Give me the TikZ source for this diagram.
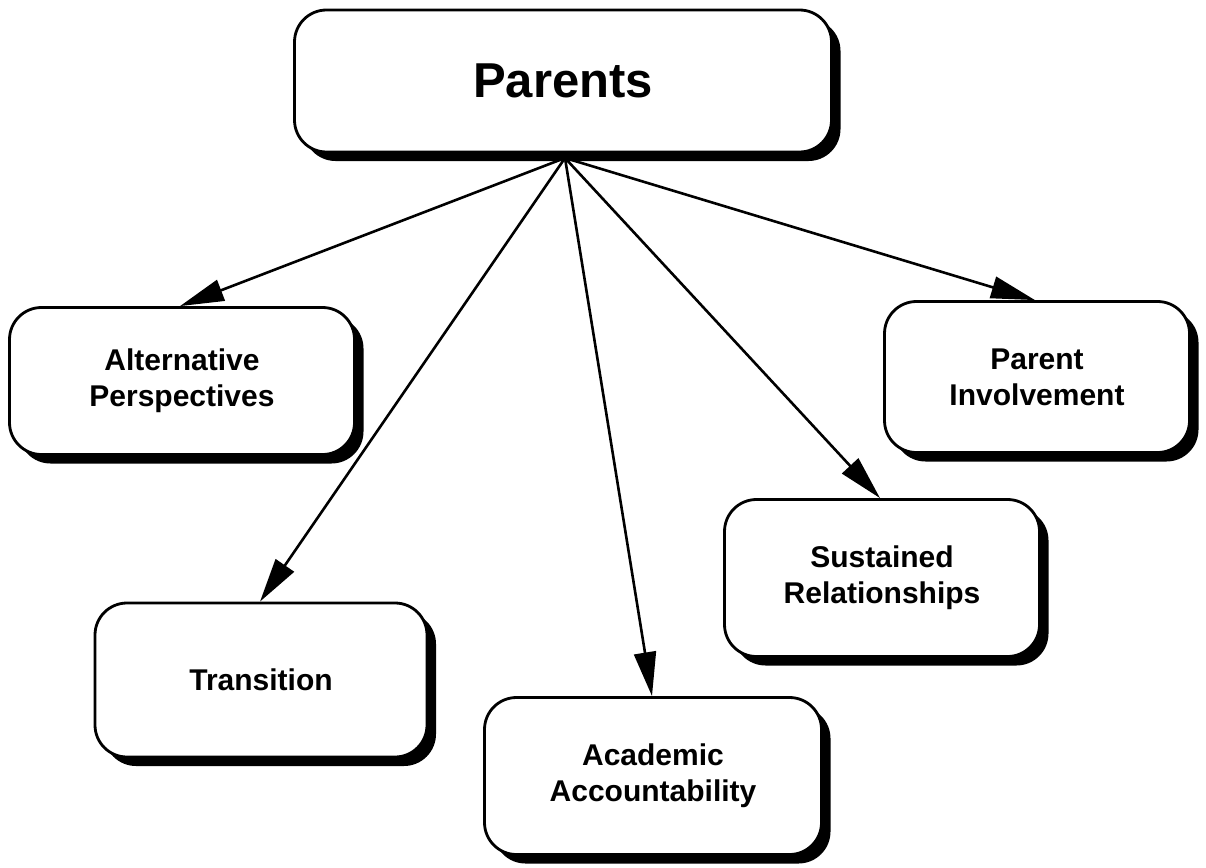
\documentclass[tikz,border=0pt]{standalone}
\usepackage{fontspec}
\setmainfont{Liberation Sans}
\usetikzlibrary{arrows.meta,shadows}
\begin{document}
\begin{tikzpicture}[x=1pt,y=-1pt,
  box/.style={draw=black, line width=2.8pt, fill=white, rounded corners=32pt,
    drop shadow={shadow xshift=9pt, shadow yshift=-9pt, fill=black, opacity=1},
    align=center, font=\fontsize{30}{36}\selectfont\bfseries, inner sep=0pt},
  conn/.style={line width=2.6pt, -{Triangle[length=44pt,width=22pt]}}]
\useasboundingbox (0,0) rectangle (1206,867);
\node[box, minimum width=537pt, minimum height=142pt, font=\fontsize{49}{54}\selectfont\bfseries] (parents) at (563,81) {Parents};
\node[box, minimum width=345pt, minimum height=147pt] (alt) at (182,381) {Alternative\\Perspectives};
\node[box, minimum width=332pt, minimum height=154pt] (trans) at (261,680) {Transition};
\node[box, minimum width=337pt, minimum height=157pt] (acad) at (653,776) {Academic\\Accountability};
\node[box, minimum width=315pt, minimum height=157pt] (sust) at (882,578) {Sustained\\Relationships};
\node[box, minimum width=305pt, minimum height=151pt] (pinv) at (1037,377) {Parent\\Involvement};
\coordinate (src) at (565,158);
\draw[conn] (src) -- (alt.north -| 180,0);
\draw[conn] (src) -- (trans.north -| 260,0);
\draw[conn] (src) -- (acad.north -| 652,0);
\draw[conn] (src) -- (sust.north -| 880,0);
\draw[conn] (src) -- (pinv.north -| 1035,0);
\end{tikzpicture}
\end{document}
